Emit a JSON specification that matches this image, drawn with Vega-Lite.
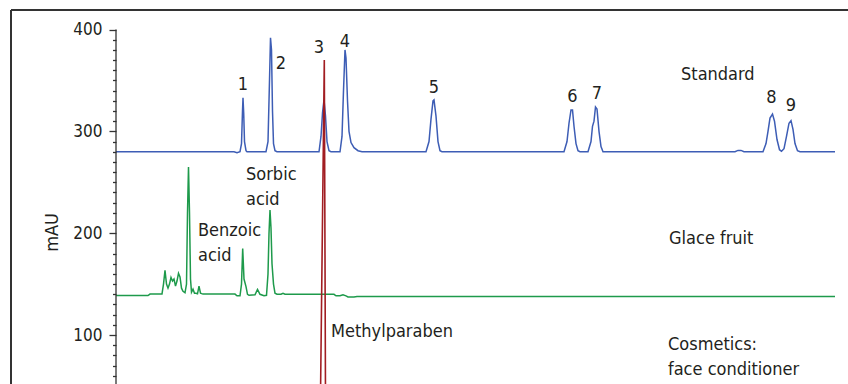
{
  "$schema": "https://vega.github.io/schema/vega-lite/v6.json",
  "width": 837,
  "height": 374,
  "autosize": {"type": "none"},
  "padding": {"left": 11, "top": 10, "right": 0, "bottom": 0},
  "background": "white",
  "config": {"view": {"stroke": null}, "font": "DejaVu Sans Condensed, Roboto, sans-serif"},
  "datasets": {
    "standard": [
      {"t": 0, "v": 280}, {"t": 2.36, "v": 280}, {"t": 2.42, "v": 279}, {"t": 2.48, "v": 280},
      {"t": 2.51, "v": 288}, {"t": 2.53, "v": 320}, {"t": 2.54, "v": 333}, {"t": 2.554, "v": 318},
      {"t": 2.57, "v": 290}, {"t": 2.6, "v": 281}, {"t": 2.62, "v": 280},
      {"t": 3.0, "v": 280}, {"t": 3.04, "v": 290}, {"t": 3.07, "v": 350}, {"t": 3.09, "v": 392},
      {"t": 3.11, "v": 380}, {"t": 3.13, "v": 320}, {"t": 3.15, "v": 288}, {"t": 3.18, "v": 281}, {"t": 3.22, "v": 280},
      {"t": 4.06, "v": 280}, {"t": 4.1, "v": 295}, {"t": 4.13, "v": 318}, {"t": 4.16, "v": 331},
      {"t": 4.19, "v": 315}, {"t": 4.22, "v": 290}, {"t": 4.26, "v": 281}, {"t": 4.3, "v": 280},
      {"t": 4.48, "v": 280}, {"t": 4.52, "v": 295}, {"t": 4.55, "v": 340}, {"t": 4.58, "v": 380},
      {"t": 4.6, "v": 372}, {"t": 4.63, "v": 330}, {"t": 4.66, "v": 300}, {"t": 4.7, "v": 289},
      {"t": 4.76, "v": 284}, {"t": 4.84, "v": 281}, {"t": 4.92, "v": 280},
      {"t": 6.2, "v": 280}, {"t": 6.26, "v": 290}, {"t": 6.3, "v": 312}, {"t": 6.34, "v": 330},
      {"t": 6.36, "v": 331}, {"t": 6.4, "v": 315}, {"t": 6.44, "v": 290}, {"t": 6.48, "v": 281}, {"t": 6.52, "v": 280},
      {"t": 8.96, "v": 280}, {"t": 9.02, "v": 290}, {"t": 9.06, "v": 308}, {"t": 9.1, "v": 321},
      {"t": 9.13, "v": 321}, {"t": 9.16, "v": 305}, {"t": 9.2, "v": 288}, {"t": 9.24, "v": 281}, {"t": 9.28, "v": 280},
      {"t": 9.44, "v": 280}, {"t": 9.5, "v": 290}, {"t": 9.53, "v": 305}, {"t": 9.56, "v": 310},
      {"t": 9.59, "v": 324}, {"t": 9.62, "v": 322}, {"t": 9.66, "v": 300}, {"t": 9.7, "v": 285}, {"t": 9.74, "v": 280},
      {"t": 12.38, "v": 280}, {"t": 12.44, "v": 281.3}, {"t": 12.5, "v": 281.3}, {"t": 12.56, "v": 280},
      {"t": 12.94, "v": 280}, {"t": 13.0, "v": 288}, {"t": 13.04, "v": 300}, {"t": 13.08, "v": 313},
      {"t": 13.13, "v": 317}, {"t": 13.17, "v": 310}, {"t": 13.22, "v": 292}, {"t": 13.27, "v": 282},
      {"t": 13.31, "v": 280.5}, {"t": 13.36, "v": 283}, {"t": 13.41, "v": 295}, {"t": 13.46, "v": 308},
      {"t": 13.5, "v": 310.5}, {"t": 13.54, "v": 302}, {"t": 13.58, "v": 288}, {"t": 13.63, "v": 281},
      {"t": 13.68, "v": 280}, {"t": 14.38, "v": 280}
    ],
    "glace": [
      {"t": 0, "v": 138.7}, {"t": 0.64, "v": 138.7}, {"t": 0.68, "v": 140.2}, {"t": 0.92, "v": 140.4},
      {"t": 0.95, "v": 150}, {"t": 0.98, "v": 163.5}, {"t": 1.01, "v": 150}, {"t": 1.04, "v": 146},
      {"t": 1.07, "v": 150}, {"t": 1.1, "v": 156.5}, {"t": 1.13, "v": 153}, {"t": 1.16, "v": 155},
      {"t": 1.19, "v": 148}, {"t": 1.22, "v": 153}, {"t": 1.25, "v": 160.5}, {"t": 1.28, "v": 157},
      {"t": 1.31, "v": 146}, {"t": 1.34, "v": 143}, {"t": 1.38, "v": 141.5}, {"t": 1.41, "v": 150},
      {"t": 1.43, "v": 220}, {"t": 1.45, "v": 265}, {"t": 1.47, "v": 220}, {"t": 1.49, "v": 155},
      {"t": 1.51, "v": 142}, {"t": 1.54, "v": 145}, {"t": 1.57, "v": 141}, {"t": 1.6, "v": 141},
      {"t": 1.63, "v": 140.5}, {"t": 1.66, "v": 148}, {"t": 1.69, "v": 141}, {"t": 1.74, "v": 140.2},
      {"t": 2.38, "v": 140.2}, {"t": 2.42, "v": 138.5}, {"t": 2.48, "v": 138.5}, {"t": 2.51, "v": 150},
      {"t": 2.534, "v": 185}, {"t": 2.56, "v": 155}, {"t": 2.6, "v": 147.5}, {"t": 2.63, "v": 140},
      {"t": 2.66, "v": 139}, {"t": 2.78, "v": 139.5}, {"t": 2.83, "v": 144.8}, {"t": 2.88, "v": 140},
      {"t": 2.96, "v": 138.5}, {"t": 3.01, "v": 139}, {"t": 3.04, "v": 160}, {"t": 3.06, "v": 200},
      {"t": 3.08, "v": 222.7}, {"t": 3.1, "v": 205}, {"t": 3.12, "v": 170}, {"t": 3.15, "v": 150},
      {"t": 3.18, "v": 141}, {"t": 3.22, "v": 140}, {"t": 3.3, "v": 140}, {"t": 3.34, "v": 141},
      {"t": 3.38, "v": 140}, {"t": 4.36, "v": 140}, {"t": 4.4, "v": 138.5}, {"t": 4.48, "v": 138.5},
      {"t": 4.54, "v": 139.6}, {"t": 4.6, "v": 138.5}, {"t": 4.64, "v": 137.4}, {"t": 4.76, "v": 137.4},
      {"t": 4.82, "v": 137.9}, {"t": 14.38, "v": 137.9}
    ],
    "cosmetics": [
      {"t": 3.68, "v": 20}, {"t": 4.04, "v": 20}, {"t": 4.09, "v": 40}, {"t": 4.166, "v": 370},
      {"t": 4.19, "v": 40}, {"t": 4.24, "v": 20}, {"t": 4.88, "v": 20}
    ],
    "peaks": [
      {"t": 2.54, "v": 340.6, "text": "1"}, {"t": 3.3, "v": 361.2, "text": "2"},
      {"t": 4.06, "v": 376.9, "text": "3"}, {"t": 4.58, "v": 382.8, "text": "4"},
      {"t": 6.36, "v": 338.1, "text": "5"}, {"t": 9.13, "v": 328.8, "text": "6"},
      {"t": 9.62, "v": 331.7, "text": "7"}, {"t": 13.11, "v": 327.8, "text": "8"},
      {"t": 13.5, "v": 320.0, "text": "9"}
    ],
    "names": [
      {"t": 11.3, "v": 350.9, "text": ["Standard"]},
      {"t": 2.6, "v": 252.2, "text": ["Sorbic", "acid"]},
      {"t": 1.64, "v": 197.1, "text": ["Benzoic", "acid"]},
      {"t": 11.06, "v": 189.3, "text": ["Glace fruit"]},
      {"t": 4.3, "v": 97.9, "text": ["Methylparaben"]},
      {"t": 11.04, "v": 85.2, "text": ["Cosmetics:", "face conditioner"]}
    ],
    "hlines": [
      {"t": -2.1, "t2": 14.64, "v": 419.2}
    ],
    "vlines": [
      {"t": -2.1, "v": 51.9, "v2": 419.2, "part": "frame"},
      {"t": 0, "v": 51.9, "v2": 400, "part": "axis"}
    ]
  },
  "encoding": {
    "x": {"field": "t", "type": "quantitative", "scale": {"domain": [-2.1, 14.64], "nice": false, "zero": false}, "axis": null},
    "y": {
      "field": "v", "type": "quantitative",
      "scale": {"domain": [51.9, 419.2], "nice": false, "zero": false},
      "axis": {
        "title": "mAU",
        "values": [60, 70, 80, 90, 100, 110, 120, 130, 140, 150, 160, 170, 180, 190, 200, 210, 220, 230, 240, 250, 260, 270, 280, 290, 300, 310, 320, 330, 340, 350, 360, 370, 380, 390, 400],
        "labelExpr": "datum.value % 100 === 0 ? datum.label : ''",
        "tickSize": {"condition": {"test": "datum.value % 100 === 0", "value": 7}, "value": 3.5},
        "offset": -105,
        "domain": false,
        "grid": false,
        "labelFontSize": 17,
        "labelColor": "#231f20",
        "labelPadding": 7,
        "labelOverlap": false,
        "labelFlush": false,
        "tickColor": "#333333",
        "tickWidth": 1.3,
        "titleFontSize": 18,
        "titleFontWeight": "normal",
        "titleColor": "#231f20",
        "titleX": -59,
        "titleY": 222,
        "titleAngle": -90,
        "titleAlign": "center",
        "titleBaseline": "alphabetic"
      }
    }
  },
  "layer": [
    {
      "data": {"name": "standard"},
      "mark": {"type": "line", "color": "#3d5db5", "strokeWidth": 1.5, "clip": true}
    },
    {
      "data": {"name": "glace"},
      "mark": {"type": "line", "color": "#1e9a4b", "strokeWidth": 1.5, "clip": true}
    },
    {
      "data": {"name": "cosmetics"},
      "mark": {"type": "line", "color": "#a11d22", "strokeWidth": 1.6, "clip": true}
    },
    {
      "data": {"name": "hlines"},
      "mark": {"type": "rule", "color": "#333333", "strokeWidth": 2},
      "encoding": {"x2": {"field": "t2"}}
    },
    {
      "data": {"name": "vlines"},
      "mark": {"type": "rule", "color": "#333333"},
      "encoding": {
        "y2": {"field": "v2"},
        "strokeWidth": {"condition": {"test": "datum.part === 'frame'", "value": 2}, "value": 1.3}
      }
    },
    {
      "data": {"name": "peaks"},
      "mark": {"type": "text", "fontSize": 18, "color": "#231f20", "align": "center", "baseline": "alphabetic"},
      "encoding": {"text": {"field": "text"}}
    },
    {
      "data": {"name": "names"},
      "mark": {"type": "text", "fontSize": 18, "color": "#231f20", "align": "left", "baseline": "alphabetic", "lineHeight": 25},
      "encoding": {"text": {"field": "text"}}
    }
  ]
}
